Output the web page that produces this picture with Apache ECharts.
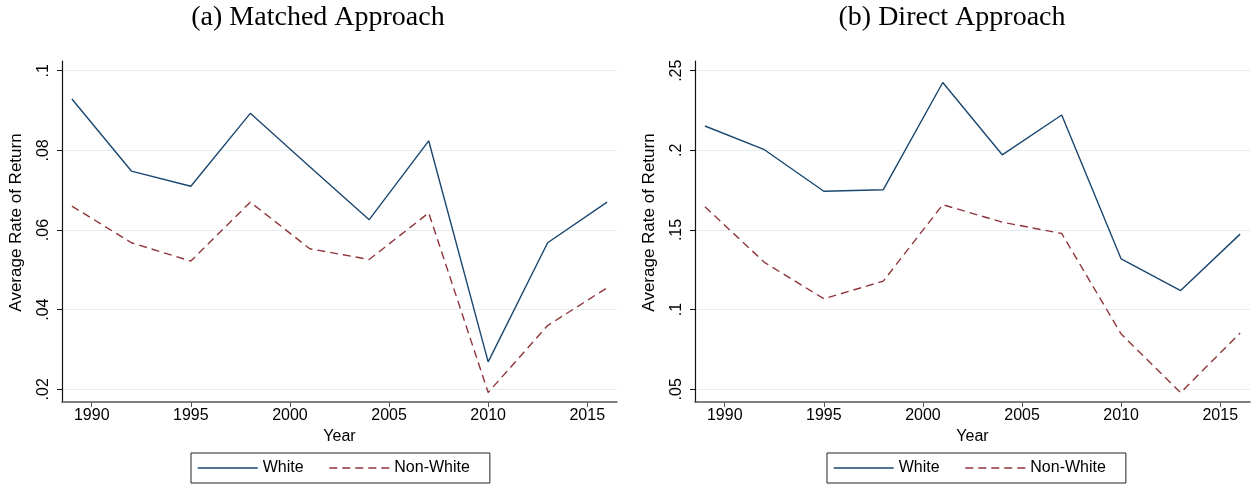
<!DOCTYPE html>
<html>
<head>
<meta charset="utf-8">
<script src="https://cdn.jsdelivr.net/npm/echarts@6/dist/echarts.min.js"></script>
<style>
  html, body { margin: 0; padding: 0; background: #fff; }
  #chart { width: 1257px; height: 489px; }
</style>
</head>
<body>
<div id="chart"></div>
<script>
// survey years
const years = [1989, 1992, 1995, 1998, 2001, 2004, 2007, 2010, 2013, 2016];

// (a) matched approach
const matchedWhite = [0.0929, 0.0748, 0.0710, 0.0893, 0.0759, 0.0626, 0.0824, 0.0269, 0.0568, 0.0670];
const matchedNonWhite = [0.0660, 0.0568, 0.0522, 0.0670, 0.0553, 0.0526, 0.0643, 0.0192, 0.0360, 0.0455];

// (b) direct approach
const directWhite = [0.2153, 0.2004, 0.1743, 0.1753, 0.2426, 0.1972, 0.2222, 0.1318, 0.1120, 0.1474];
const directNonWhite = [0.1646, 0.1297, 0.1068, 0.1179, 0.1659, 0.1549, 0.1478, 0.0847, 0.0479, 0.0853];

// tick values
const xTicks = [1990, 1995, 2000, 2005, 2010, 2015];
const yTicksA = [0.02, 0.04, 0.06, 0.08, 0.1];
const yTicksB = [0.05, 0.1, 0.15, 0.2, 0.25];

const sans = 'Liberation Sans';
const navy = '#1a476f';
const maroon = '#90353b';

// stata style ".08" labels
const stataNum = v => String(+v.toFixed(4)).replace(/^0\./, '.');
const pairs = vals => years.map((y, i) => [y, vals[i]]);

const xAxisOf = (gridIndex) => ({
    type: 'value',
    gridIndex,
    min: 1988.5,
    max: 2016.5,
    name: 'Year',
    nameLocation: 'middle',
    nameGap: 22,
    nameTextStyle: { fontFamily: sans, fontSize: 16, color: '#000' },
    axisLine: { show: true, lineStyle: { color: '#555', width: 1.5 } },
    axisTick: { show: true, length: 5, customValues: xTicks, lineStyle: { color: '#555' } },
    axisLabel: { customValues: xTicks, fontFamily: sans, fontSize: 16, color: '#000', margin: 6, formatter: v => String(v) },
    splitLine: { show: false }
});

const yAxisOf = (gridIndex, min, max, ticks) => ({
    type: 'value',
    gridIndex,
    min,
    max,
    name: 'Average Rate of Return',
    nameLocation: 'middle',
    nameGap: 37,
    nameTextStyle: { fontFamily: sans, fontSize: 17, color: '#000', padding: [0, 0, 0, 18] },
    axisLine: { show: true, lineStyle: { color: '#111', width: 1.2 } },
    axisTick: { show: true, length: 5, customValues: ticks, lineStyle: { color: '#111' } },
    axisLabel: {
        customValues: ticks,
        rotate: 90,
        fontFamily: sans,
        fontSize: 16,
        color: '#000',
        margin: 10,
        formatter: stataNum
    },
    splitLine: { show: true, lineStyle: { color: '#e4edf0', width: 1.2 } }
});

const lineOf = (name, data, axisIdx, dashed) => ({
    name,
    type: 'line',
    xAxisIndex: axisIdx,
    yAxisIndex: axisIdx,
    data: pairs(data),
    symbol: 'none',
    lineStyle: {
        color: dashed ? maroon : navy,
        width: 1.4,
        type: dashed ? [8, 5] : 'solid'
    },
    itemStyle: { color: dashed ? maroon : navy }
});

const legendOf = (left) => ({
    left,
    top: 453,
    orient: 'horizontal',
    data: ['White', 'Non-White'],
    itemWidth: 60,
    itemHeight: 16,
    itemGap: 25,
    padding: [7, 20, 7, 6],
    borderColor: '#222',
    borderWidth: 1,
    backgroundColor: '#fff',
    itemStyle: { opacity: 0 },
    lineStyle: { width: 1.4 },
    textStyle: { fontFamily: sans, fontSize: 16, color: '#000' }
});

const myChart = echarts.init(document.getElementById('chart'));
myChart.setOption({
    animation: false,
    backgroundColor: '#fff',
    title: [
        {
            text: '(a) Matched Approach',
            left: 318, top: 4, textAlign: 'center', padding: 0,
            textStyle: { fontFamily: 'Liberation Serif', fontSize: 28, fontWeight: 'normal', color: '#000' }
        },
        {
            text: '(b) Direct Approach',
            left: 952, top: 4, textAlign: 'center', padding: 0,
            textStyle: { fontFamily: 'Liberation Serif', fontSize: 28, fontWeight: 'normal', color: '#000' }
        }
    ],
    grid: [
        { left: 62, right: 640, top: 61, bottom: 87 },
        { left: 695, right: 7, top: 61, bottom: 87 }
    ],
    legend: [legendOf(191), legendOf(827)],
    xAxis: [xAxisOf(0), xAxisOf(1)],
    yAxis: [
        yAxisOf(0, 0.01681, 0.10244, yTicksA),
        yAxisOf(1, 0.0420, 0.2561, yTicksB)
    ],
    series: [
        lineOf('White', matchedWhite, 0, false),
        lineOf('Non-White', matchedNonWhite, 0, true),
        lineOf('White', directWhite, 1, false),
        lineOf('Non-White', directNonWhite, 1, true)
    ]
});
</script>
</body>
</html>
